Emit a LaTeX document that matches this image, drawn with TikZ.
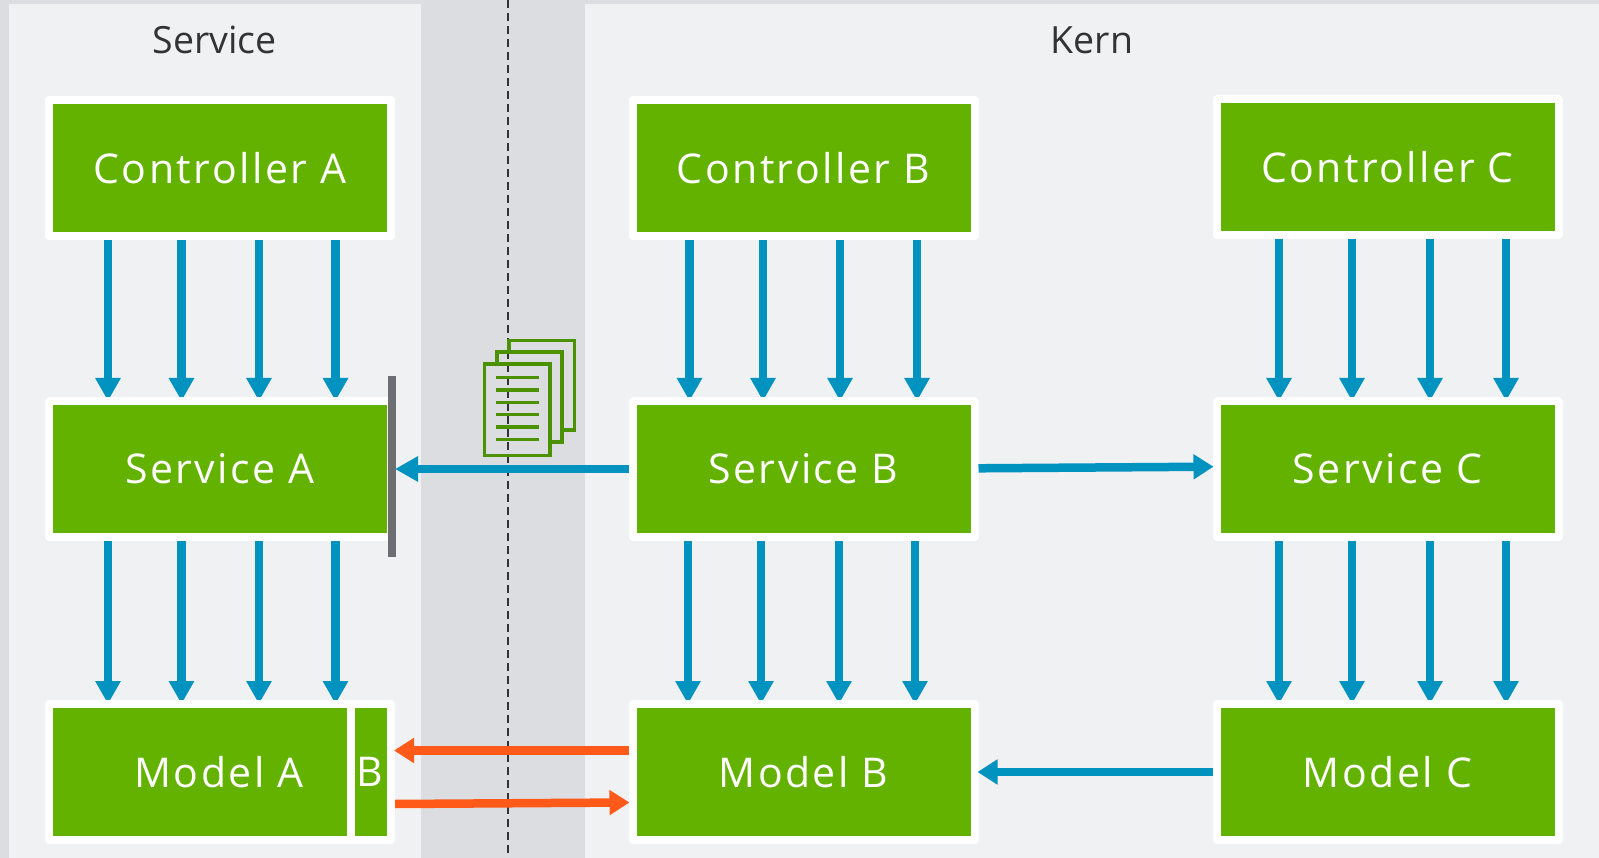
\documentclass[tikz,border=0pt]{standalone}
\usepackage{fontspec}
\setmainfont{Open Sans}
\newfontfamily\boxfont[LetterSpace=6]{Open Sans}
\usetikzlibrary{arrows.meta}
\definecolor{bandgray}{HTML}{DCDDE0}
\definecolor{panel}{HTML}{F0F1F3}
\definecolor{boxgreen}{HTML}{64B200}
\definecolor{iconGreen}{HTML}{4C9100}
\definecolor{flowblue}{HTML}{0093C0}
\definecolor{floworange}{HTML}{FF5A19}
\definecolor{bargray}{HTML}{6D6E71}
\pgfdeclarelayer{under}
\pgfsetlayers{under,main}
\tikzset{
  x=1pt,y=-1pt,
  gbox/.style={draw=white,line width=8pt,line join=round,fill=boxgreen,minimum width=342pt,minimum height=136pt,inner sep=0pt,text=white,font=\boxfont\fontsize{41}{46}\selectfont},
  title/.style={font=\fontsize{37.5}{44}\selectfont,text=black!80},
  blue/.style={draw=flowblue,line width=8.5pt,-{Triangle[length=23pt,width=24pt]},shorten >=-4pt},
  bluehoriz/.style={draw=flowblue,line width=8.5pt,-{Triangle[length=20pt,width=24pt]},shorten >=-1pt},
  orange/.style={draw=floworange,line width=8.5pt,-{Triangle[length=20pt,width=24pt]},shorten >=-1pt},
  icon/.style={draw=iconGreen,line width=3.2pt},
}
\begin{document}
\begin{tikzpicture}
\useasboundingbox (0,0) rectangle (1599,858);
% boxes
\node[gbox] (ca) at (220,168) {Controller A};
\node[gbox] (cb) at (803.5,168) {Controller B};
\node[gbox] (cc) at (1387.5,167) {Controller C};
\node[gbox] (sa) at (220,469) {\raisebox{-1pt}{Service A}};
\node[gbox] (sb) at (803.5,469) {\raisebox{-1pt}{Service B}};
\node[gbox] (sc) at (1387.5,469) {\raisebox{-1pt}{Service C}};
\node[gbox,minimum width=302pt] (ma) at (200,772) {\hspace*{38pt}Model A};
\node[gbox,minimum width=40pt] (mb) at (371,772) {\hspace*{-2pt}B};
\node[gbox] (mB) at (803.5,772) {Model B};
\node[gbox] (mC) at (1387.5,772) {Model C};
\node[title] (tS) at (214.5,40) {Service};
\node[title] (tK) at (1092,40) {Kern};
% x positions
\foreach \n/\x in {a1/108,a2/181.5,a3/259,a4/335.5,b1/689.5,b2/763,b3/840,b4/917,d1/688,d2/761,d3/839,d4/915,c1/1279,c2/1352,c3/1430,c4/1506}
  \coordinate (x\n) at (\x,0);
\begin{pgfonlayer}{under}
\fill[bandgray] (0,0) rectangle (1599,858);
\fill[panel] (9,4) rectangle (421,858);
\fill[panel] (585,4) rectangle (1599,858);
\draw[black!80,line width=1.5pt,dash pattern=on 8pt off 5pt] (508,0) -- (508,858);
\foreach \i in {1,2,3,4}{
  \draw[blue] (xa\i |- ca.south) -- (xa\i |- sa.north);
  \draw[blue] (xa\i |- sa.south) -- (xa\i |- ma.north);
  \draw[blue] (xb\i |- cb.south) -- (xb\i |- sb.north);
  \draw[blue] (xd\i |- sb.south) -- (xd\i |- mB.north);
  \draw[blue] (xc\i |- cc.south) -- (xc\i |- sc.north);
  \draw[blue] (xc\i |- sc.south) -- (xc\i |- mC.north);
}
\end{pgfonlayer}
% gray bar
\fill[bargray] (387.5,376) rectangle (395.5,557);
\coordinate (barhit) at (396,469);
\draw[bluehoriz,-{Triangle[length=23pt,width=24pt]}] (sb.west) -- (barhit);
\draw[bluehoriz] ([yshift=0.7pt]sb.east) -- ([yshift=2.3pt]sc.west);
\draw[bluehoriz] (mC.west) -- (mB.east);
\draw[orange] ([yshift=21.5pt]mB.west) -- ([yshift=21.5pt]mb.east);
\draw[orange] ([yshift=-32pt]mb.east) -- ([yshift=-30.5pt]mB.west);
% document icon
\draw[icon] (509,352) -- (509,340.5) -- (574.5,340.5) -- (574.5,430) -- (562,430);
\draw[icon] (497,364) -- (497,352) -- (562,352) -- (562,442) -- (550,442);
\draw[icon] (484.5,364) rectangle (550,455.5);
\foreach \y in {377.7,390,402.3,414.7,427,439.3}
  \draw[icon] (496,\y) -- (539,\y);
\end{tikzpicture}
\end{document}
